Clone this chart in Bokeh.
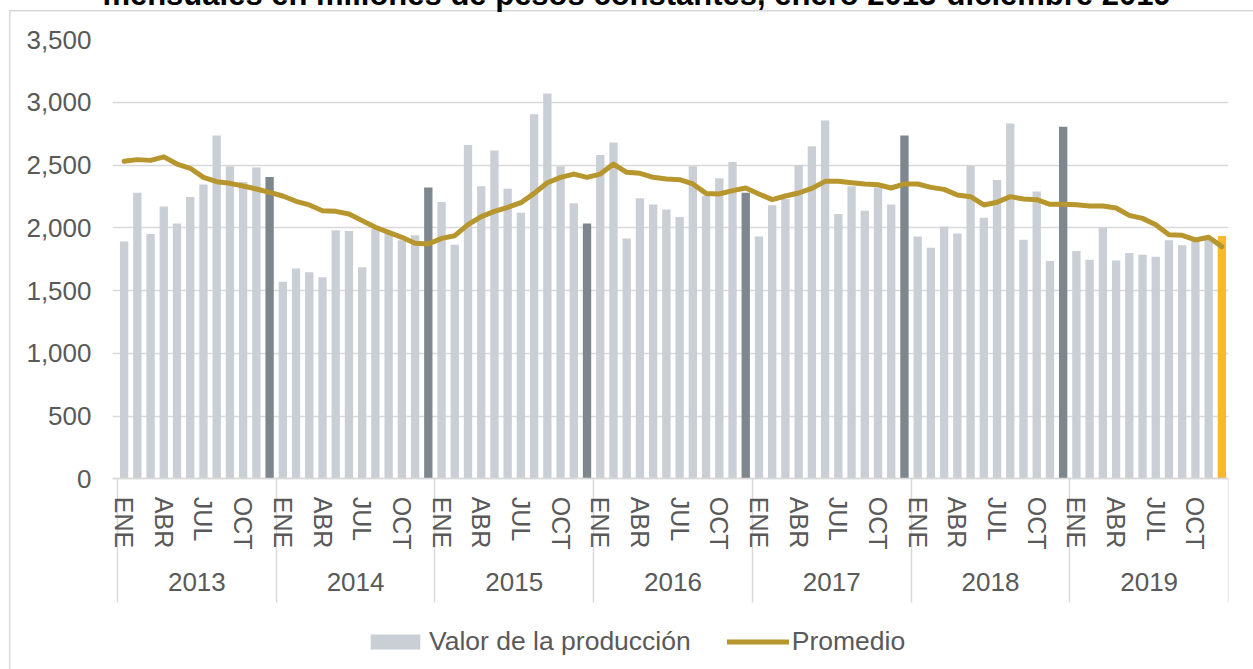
from bokeh.plotting import figure
from bokeh.models import (ColumnDataSource, Range1d, LinearAxis, FixedTicker, Grid,
                          NumeralTickFormatter, Legend, LegendItem, Label)
from bokeh.embed import file_html
from bokeh.resources import INLINE

# ---------------- data ----------------
years = ["2013", "2014", "2015", "2016", "2017", "2018", "2019"]
months = ["ENE", "FEB", "MAR", "ABR", "MAY", "JUN", "JUL", "AGO", "SEP", "OCT", "NOV", "DIC"]
shown_months = ["ENE", "ABR", "JUL", "OCT"]

valor_2013 = [1890, 2280, 1950, 2170, 2035, 2245, 2345, 2735, 2490, 2365, 2480, 2405]
valor_2014 = [1570, 1675, 1645, 1605, 1980, 1975, 1685, 1990, 1965, 1900, 1940, 2320]
valor_2015 = [2205, 1865, 2660, 2330, 2615, 2310, 2120, 2905, 3070, 2490, 2195, 2035]
valor_2016 = [2580, 2680, 1915, 2235, 2185, 2145, 2085, 2490, 2255, 2395, 2525, 2280]
valor_2017 = [1930, 2180, 2230, 2500, 2650, 2855, 2110, 2330, 2135, 2320, 2185, 2735]
valor_2018 = [1930, 1840, 2010, 1955, 2495, 2080, 2380, 2830, 1905, 2290, 1735, 2805]
valor_2019 = [1815, 1745, 2000, 1740, 1800, 1785, 1770, 1900, 1860, 1895, 1905, 1935]

promedio_2013 = [2530, 2543, 2537, 2565, 2508, 2474, 2402, 2367, 2354, 2333, 2309, 2282]
promedio_2014 = [2253, 2211, 2182, 2136, 2131, 2110, 2057, 2004, 1964, 1924, 1876, 1871]
promedio_2015 = [1916, 1937, 2025, 2089, 2131, 2163, 2200, 2274, 2359, 2402, 2428, 2402]
promedio_2016 = [2428, 2508, 2442, 2434, 2402, 2389, 2383, 2349, 2274, 2269, 2296, 2317]
promedio_2017 = [2269, 2224, 2253, 2277, 2314, 2370, 2370, 2359, 2349, 2343, 2317, 2349]
promedio_2018 = [2349, 2322, 2306, 2261, 2248, 2182, 2203, 2248, 2229, 2224, 2187, 2187]
promedio_2019 = [2184, 2174, 2174, 2158, 2099, 2075, 2025, 1945, 1940, 1903, 1924, 1850]

y_ticks = [0, 500, 1000, 1500, 2000, 2500, 3000, 3500]

title_text = "mensuales en millones de pesos constantes, enero 2013-diciembre 2019"
serie_barras = "Valor de la producción"
serie_linea = "Promedio"

# ---------------- build ----------------
valor = valor_2013 + valor_2014 + valor_2015 + valor_2016 + valor_2017 + valor_2018 + valor_2019
promedio = (promedio_2013 + promedio_2014 + promedio_2015 + promedio_2016 +
            promedio_2017 + promedio_2018 + promedio_2019)
cat_year = [y for y in years for m in months]
cat_month = [m for y in years for m in months]
N = len(valor)
xs = list(range(N))

LIGHT = "#c9cfd5"
DARK = "#7d878d"
YELLOW = "#fbb92a"
GOLD = "#b8962e"
GRID = "#d9d9d9"
TXT = "#595959"
FONT = "Liberation Sans"

colors = []
for i, (yy, mm) in enumerate(zip(cat_year, cat_month)):
    if i == N - 1:
        colors.append(YELLOW)
    elif mm == "DIC":
        colors.append(DARK)
    else:
        colors.append(LIGHT)

src = ColumnDataSource(dict(x=xs, valor=valor, promedio=promedio, color=colors))

# small extra room on the left so the first month label is not clipped
x_start = -0.878
x_end = N - 0.5
yr_start = -0.5 + (x_start + 0.5) / 12

# the frame runs down to the bottom of the page; the value axis only ticks 0..3500
p = figure(width=1253, height=669, output_backend="svg", toolbar_location=None,
           x_range=Range1d(x_start, x_end), y_range=Range1d(-1519, 3500),
           min_border_left=112, min_border_right=25, min_border_top=39,
           min_border_bottom=0, x_axis_location=None)
p.outline_line_color = None
p.background_fill_color = "white"
p.border_fill_alpha = 0
# outer chart border (left and top edges) drawn as CSS inset shadows
p.styles = {"background-color": "white",
            "box-shadow": "inset 9px 10px 0 0 white, inset 10.5px 11.5px 0 0 #d9d9d9"}

# y axis
p.yaxis.ticker = FixedTicker(ticks=y_ticks)
p.yaxis.formatter = NumeralTickFormatter(format="0,0")
p.yaxis.axis_line_color = None
p.yaxis.major_tick_line_color = None
p.yaxis.minor_tick_line_color = None
p.yaxis.major_label_text_font_size = "26px"
p.yaxis.major_label_text_font = FONT
p.yaxis.major_label_text_color = TXT
p.yaxis.major_label_standoff = 15
p.ygrid.ticker = FixedTicker(ticks=y_ticks)
p.ygrid.grid_line_color = GRID
p.ygrid.grid_line_width = 1.5

# bars and line
bars = p.vbar(x="x", top="valor", width=0.63, fill_color="color", line_color=None, source=src)
line = p.line(x="x", y="promedio", line_color=GOLD, line_width=5, line_join="round",
              line_cap="round", source=src)

# month axis at value 0 (year separators as long minor ticks)
month_ticks = [i for i, m in enumerate(cat_month) if m in shown_months]
month_over = {i: cat_month[i] for i in month_ticks}
year_bounds = [k * 12 - 0.5 for k in range(len(years) + 1)]
month_axis = LinearAxis(fixed_location=0,
                        ticker=FixedTicker(ticks=month_ticks, minor_ticks=year_bounds),
                        major_label_overrides=month_over,
                        major_label_orientation="vertical",
                        major_tick_line_color=None, major_tick_in=0, major_tick_out=0,
                        minor_tick_line_color=GRID, minor_tick_line_width=1.5,
                        minor_tick_in=0, minor_tick_out=124,
                        axis_line_color=GRID, axis_line_width=1.5,
                        major_label_standoff=-106,
                        major_label_text_font_size="25px", major_label_text_font=FONT,
                        major_label_text_color=TXT)
p.add_layout(month_axis, "below")

# year axis
p.extra_x_ranges = {"years": Range1d(yr_start, len(years) - 0.5)}
year_axis = LinearAxis(fixed_location=0, x_range_name="years",
                       ticker=FixedTicker(ticks=list(range(len(years)))),
                       major_label_overrides={i: y for i, y in enumerate(years)},
                       axis_line_color=None, major_tick_line_color=None,
                       minor_tick_line_color=None, major_tick_in=0, major_tick_out=0,
                       major_label_standoff=94,
                       major_label_text_font_size="26px", major_label_text_font=FONT,
                       major_label_text_color=TXT)
p.add_layout(year_axis, "below")

# hide any vertical grid
for r in p.center:
    if isinstance(r, Grid) and r.dimension == 0:
        r.visible = False

# legend under the year labels
legend = Legend(items=[LegendItem(label=serie_barras, renderers=[bars], index=0),
                       LegendItem(label=serie_linea, renderers=[line])],
                orientation="horizontal", location=(252, 12),
                border_line_color=None, background_fill_alpha=0,
                padding=0, margin=0, spacing=36, label_standoff=3,
                glyph_width=62, glyph_height=19,
                label_text_font_size="26.5px", label_text_font=FONT, label_text_color=TXT)
p.add_layout(legend)

# clipped chart title at the very top
p.add_layout(Label(x=636, y=-6.5, x_units="canvas", y_units="canvas", text=title_text,
                   text_align="center", text_baseline="alphabetic",
                   text_font_style="bold", text_font_size="31px", text_font=FONT,
                   text_color="black"), "above")

open("out.html", "w").write(file_html(p, INLINE))
